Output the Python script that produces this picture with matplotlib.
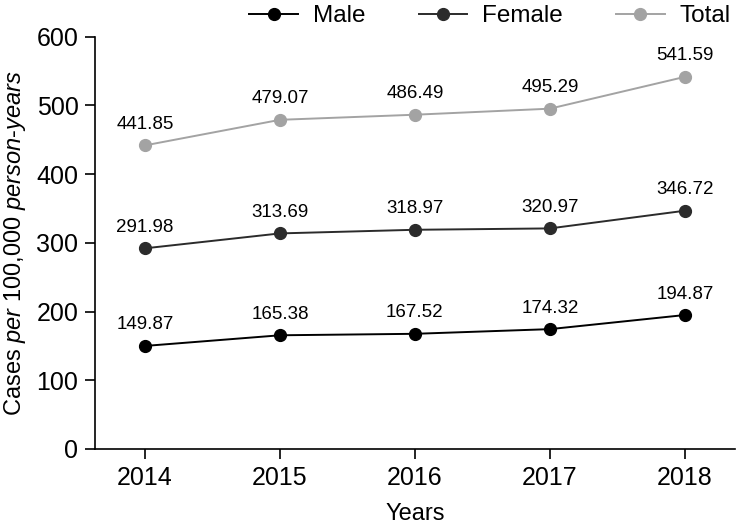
import matplotlib
matplotlib.use("Agg")
import matplotlib.pyplot as plt

years = [2014, 2015, 2016, 2017, 2018]
male = [149.87, 165.38, 167.52, 174.32, 194.87]
female = [291.98, 313.69, 318.97, 320.97, 346.72]
total = [441.85, 479.07, 486.49, 495.29, 541.59]

plt.rcParams['font.family'] = ['Liberation Sans', 'DejaVu Sans']
plt.rcParams['mathtext.fontset'] = 'custom'
plt.rcParams['mathtext.rm'] = 'Liberation Sans'
plt.rcParams['mathtext.it'] = 'Liberation Sans:italic'

fig = plt.figure(figsize=(7.37, 5.25), dpi=100)
ax = fig.add_axes([0.129, 0.145, 0.868, 0.785])

series = [("Male", male, "#000000"), ("Female", female, "#2b2b2b"), ("Total", total, "#a3a3a3")]
for name, vals, col in series:
    ax.plot(years, vals, color=col, marker="o", markersize=8.5, linewidth=1.4, label=name)
    for x, y in zip(years, vals):
        ax.annotate(f"{y:.2f}", (x, y), xytext=(0, 9), textcoords="offset points",
                    ha="center", va="bottom", fontsize=13.5)

ax.set_xlim(2013.63, 2018.37)
ax.set_ylim(0, 600)
ax.set_xticks(years)
ax.set_yticks(range(0, 601, 100))
ax.tick_params(labelsize=18, direction="out", length=7, width=1.2, pad=5)
for s in ["top", "right"]:
    ax.spines[s].set_visible(False)
for s in ["left", "bottom"]:
    ax.spines[s].set_linewidth(1.2)

ax.set_xlabel("Years", fontsize=17, labelpad=10)
ax.set_ylabel(r"Cases $\mathit{per\ 100{,}000\ person\text{-}years}$", fontsize=17, labelpad=6)

ax.legend(loc="lower right", bbox_to_anchor=(0.993, 1.023), ncol=3, frameon=False,
          fontsize=17.5, handlelength=2.0, handletextpad=0.6, columnspacing=2.2,
          borderaxespad=0, borderpad=0)

fig.savefig("out.png", dpi=100)
